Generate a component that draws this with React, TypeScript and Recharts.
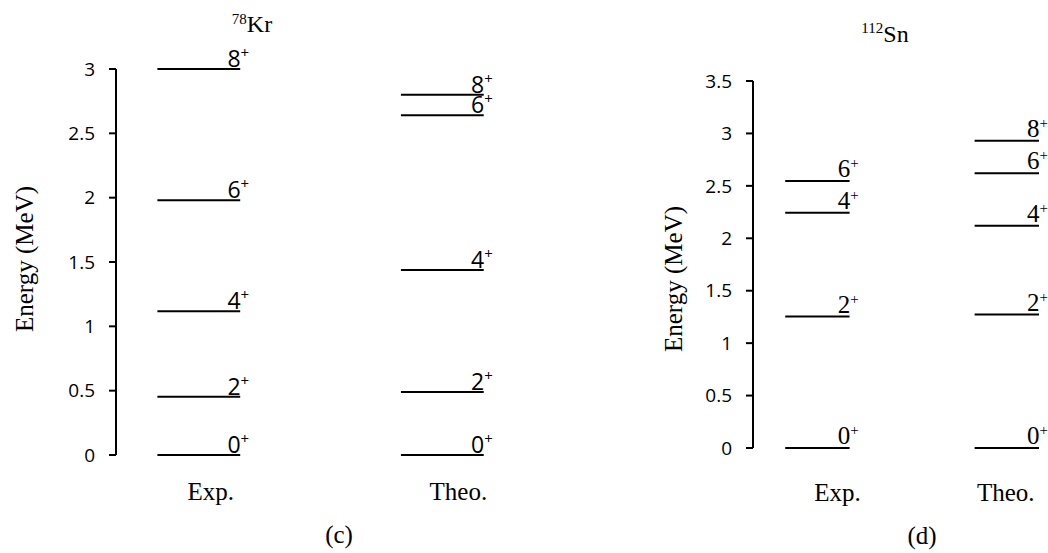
import { ComposedChart, ReferenceLine, XAxis, YAxis } from 'recharts'

const COLUMNS = ['Exp.', 'Theo.']

// 78Kr levels (MeV)
const krExpSpins = ['0', '2', '4', '6', '8']
const krExpEnergy = [0, 0.453, 1.117, 1.98, 3.0]
const krTheoSpins = ['0', '2', '4', '6', '8']
const krTheoEnergy = [0, 0.49, 1.437, 2.64, 2.8]
const krTicks = [0, 0.5, 1, 1.5, 2, 2.5, 3]

// 112Sn levels (MeV)
const snExpSpins = ['0', '2', '4', '6']
const snExpEnergy = [0, 1.253, 2.244, 2.546]
const snTheoSpins = ['0', '2', '4', '6', '8']
const snTheoEnergy = [0, 1.272, 2.12, 2.62, 2.93]
const snTicks = [0, 0.5, 1, 1.5, 2, 2.5, 3, 3.5]

const SERIF = '"Liberation Serif", "Times New Roman", serif'
const SANS = '"Open Sans", Lato, sans-serif'
const HALF = 0.17

interface Level {
  col: number
  energy: number
  spin: string
}

function buildLevels(col: number, spins: string[], energy: number[]): Level[] {
  return energy.map((e, i) => ({ col, energy: e, spin: spins[i] }))
}

interface PanelProps {
  left: number
  levels: Level[]
  ticks: number[]
  yMax: number
  margin: { top: number; right: number; bottom: number; left: number }
  labelFont: string
  labelSize: number
  labelLift: number
  yLabelX: number
  yLabelY: number
  colDx: number[]
  colDy: number
}

function Panel(p: PanelProps) {
  const levelLabel = (spin: string) => (props: any) => {
    const vb = props.viewBox
    if (!vb) return null
    return (
      <text
        x={vb.x + vb.width + 9}
        y={vb.y - p.labelLift}
        textAnchor="end"
        fontFamily={p.labelFont}
        fontSize={p.labelSize}
        fill="#000"
      >
        {spin}
        <tspan dy={-9} fontSize={15}>+</tspan>
      </text>
    )
  }

  const yLabel = () => (
    <text
      x={p.yLabelX}
      y={p.yLabelY}
      transform={`rotate(-90, ${p.yLabelX}, ${p.yLabelY})`}
      textAnchor="middle"
      fontFamily={SERIF}
      fontSize={25}
      fill="#000"
    >
      Energy (MeV)
    </text>
  )

  const colTick = (props: any) => (
    <text
      x={props.x + p.colDx[props.payload.value]}
      y={props.y + p.colDy}
      textAnchor="middle"
      fontFamily={SERIF}
      fontSize={25}
      fill="#000"
    >
      {COLUMNS[props.payload.value]}
    </text>
  )

  return (
    <div style={{ position: 'absolute', left: p.left, top: 0 }}>
      <ComposedChart width={540} height={553} margin={p.margin}>
        <XAxis
          type="number"
          dataKey="col"
          domain={[-0.34, 1.36]}
          ticks={[0, 1]}
          allowDataOverflow
          axisLine={false}
          tickLine={false}
          tickSize={0}
          tickMargin={0}
          height={60}
          tick={colTick}
        />
        <YAxis
          type="number"
          domain={[0, p.yMax]}
          ticks={p.ticks}
          allowDataOverflow
          width={80}
          axisLine={{ stroke: '#000', strokeWidth: 2 }}
          tickLine={{ stroke: '#000', strokeWidth: 2 }}
          tickSize={7}
          tickMargin={14}
          tick={{ fontSize: 19, fill: '#000', fontFamily: SANS }}
          label={{ content: yLabel }}
        />
        {p.levels.map((lv, i) => (
          <ReferenceLine
            key={i}
            segment={[
              { x: lv.col - HALF, y: lv.energy },
              { x: lv.col + HALF, y: lv.energy },
            ]}
            stroke="#000"
            strokeWidth={2}
            label={{ content: levelLabel(lv.spin) }}
          />
        ))}
      </ComposedChart>
    </div>
  )
}

export default function App() {
  const krLevels = [
    ...buildLevels(0, krExpSpins, krExpEnergy),
    ...buildLevels(1, krTheoSpins, krTheoEnergy),
  ]
  const snLevels = [
    ...buildLevels(0, snExpSpins, snExpEnergy),
    ...buildLevels(1, snTheoSpins, snTheoEnergy),
  ]
  return (
    <div
      style={{
        position: 'absolute',
        left: 0,
        top: 0,
        width: 1048,
        height: 553,
        overflow: 'hidden',
        background: '#fff',
      }}
    >
      <Panel
        left={0}
        levels={krLevels}
        ticks={krTicks}
        yMax={3}
        margin={{ top: 69, right: 10, bottom: 38, left: 36 }}
        labelFont={SANS}
        labelSize={23}
        labelLift={2}
        yLabelX={33}
        yLabelY={259}
        colDx={[12, 16]}
        colDy={45}
      />
      <Panel
        left={540}
        levels={snLevels}
        ticks={snTicks}
        yMax={3.5}
        margin={{ top: 81, right: 5, bottom: 45, left: 133 }}
        labelFont={SERIF}
        labelSize={25}
        labelLift={4}
        yLabelX={142}
        yLabelY={279}
        colDx={[20, -1]}
        colDy={53}
      />
      <svg
        width={1048}
        height={553}
        style={{ position: 'absolute', left: 0, top: 0, pointerEvents: 'none' }}
      >
        <text x={252} y={32} textAnchor="middle" fontFamily={SERIF} fontSize={24} fill="#000">
          <tspan fontSize={15} dy={-8}>78</tspan>
          <tspan dy={8}>Kr</tspan>
        </text>
        <text x={885} y={42} textAnchor="middle" fontFamily={SERIF} fontSize={24} fill="#000">
          <tspan fontSize={15} dy={-9}>112</tspan>
          <tspan dy={9}>Sn</tspan>
        </text>
        <text x={339} y={543} textAnchor="middle" fontFamily={SERIF} fontSize={25} fill="#000">
          (c)
        </text>
        <text x={922} y={544} textAnchor="middle" fontFamily={SERIF} fontSize={25} fill="#000">
          (d)
        </text>
      </svg>
    </div>
  )
}
